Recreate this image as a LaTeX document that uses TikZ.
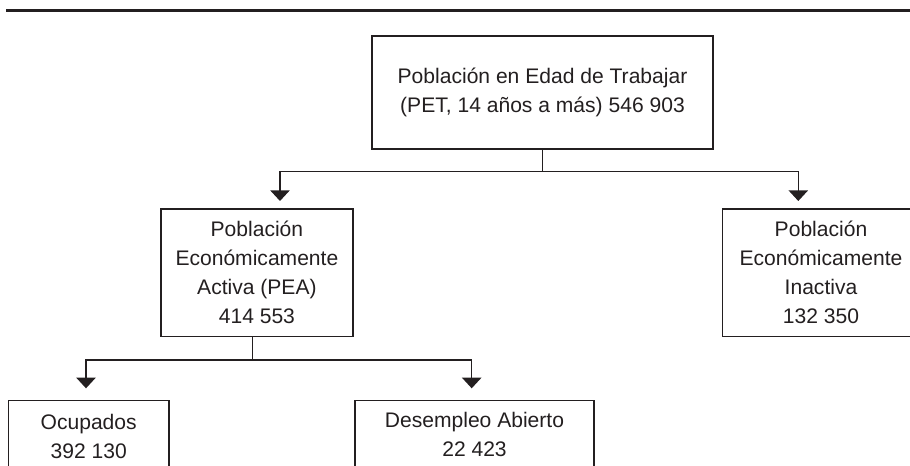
\documentclass[tikz,border=0pt]{standalone}
\usepackage{fontspec}
\setmainfont{Liberation Sans}
\usetikzlibrary{arrows.meta}
\definecolor{tinta}{HTML}{231F20}

\begin{document}
\begin{tikzpicture}[x=0.75pt,y=-0.75pt,
    caja/.style={draw=tinta,line width=1.2pt,text=tinta,align=center,inner sep=0pt,
      font=\fontsize{15.8}{21.75}\selectfont},
    linea/.style={draw=tinta,line width=1.1pt},
    flecha/.style={linea,-{Triangle[width=14.5pt,length=8pt]}}]
  \useasboundingbox (0,0) rectangle (910,465);
  \clip (0,0) rectangle (910,465);
  % regla superior
  \draw[tinta,line width=2.2pt] (6,10.7) -- (910,10.7);

  % cajas
  \node[caja,minimum width=255.75pt,minimum height=84.75pt] (pet) at (542.5,92.5)
    {Población en Edad de Trabajar\\ (PET, 14 años a más) 546 903};
  \node[caja,minimum width=144pt,minimum height=95.8pt] (pea) at (256.9,272.8)
    {Población\\ Económicamente\\ Activa (PEA)\\ 414 553};
  \node[caja,minimum width=147.5pt,minimum height=95.8pt] (pei) at (821,272.8)
    {Población\\ Económicamente\\ Inactiva\\ 132 350};
  \node[caja,minimum width=120.5pt,minimum height=53pt] (ocu) at (88.7,436)
    {Ocupados\\ 392 130};
  \node[caja,minimum width=179.25pt,minimum height=50pt] (des) at (474.5,434)
    {Desempleo Abierto\\ 22 423};

  % conectores
  \coordinate (nPET) at (542.5,171.5);
  \coordinate (aPEA) at (280,201);
  \coordinate (aPEI) at (798.3,201);
  \draw[linea] (pet.south) -- (nPET);
  \draw[flecha] (nPET) -| (aPEA);
  \draw[flecha] (nPET) -| (aPEI);

  \coordinate (nPEA) at (252.3,360);
  \coordinate (aOCU) at (86,388.3);
  \coordinate (aDES) at (471.7,388.3);
  \draw[linea] (nPEA |- pea.south) -- (nPEA);
  \draw[flecha] (nPEA) -| (aOCU);
  \draw[flecha] (nPEA) -| (aDES);
\end{tikzpicture}
\end{document}
